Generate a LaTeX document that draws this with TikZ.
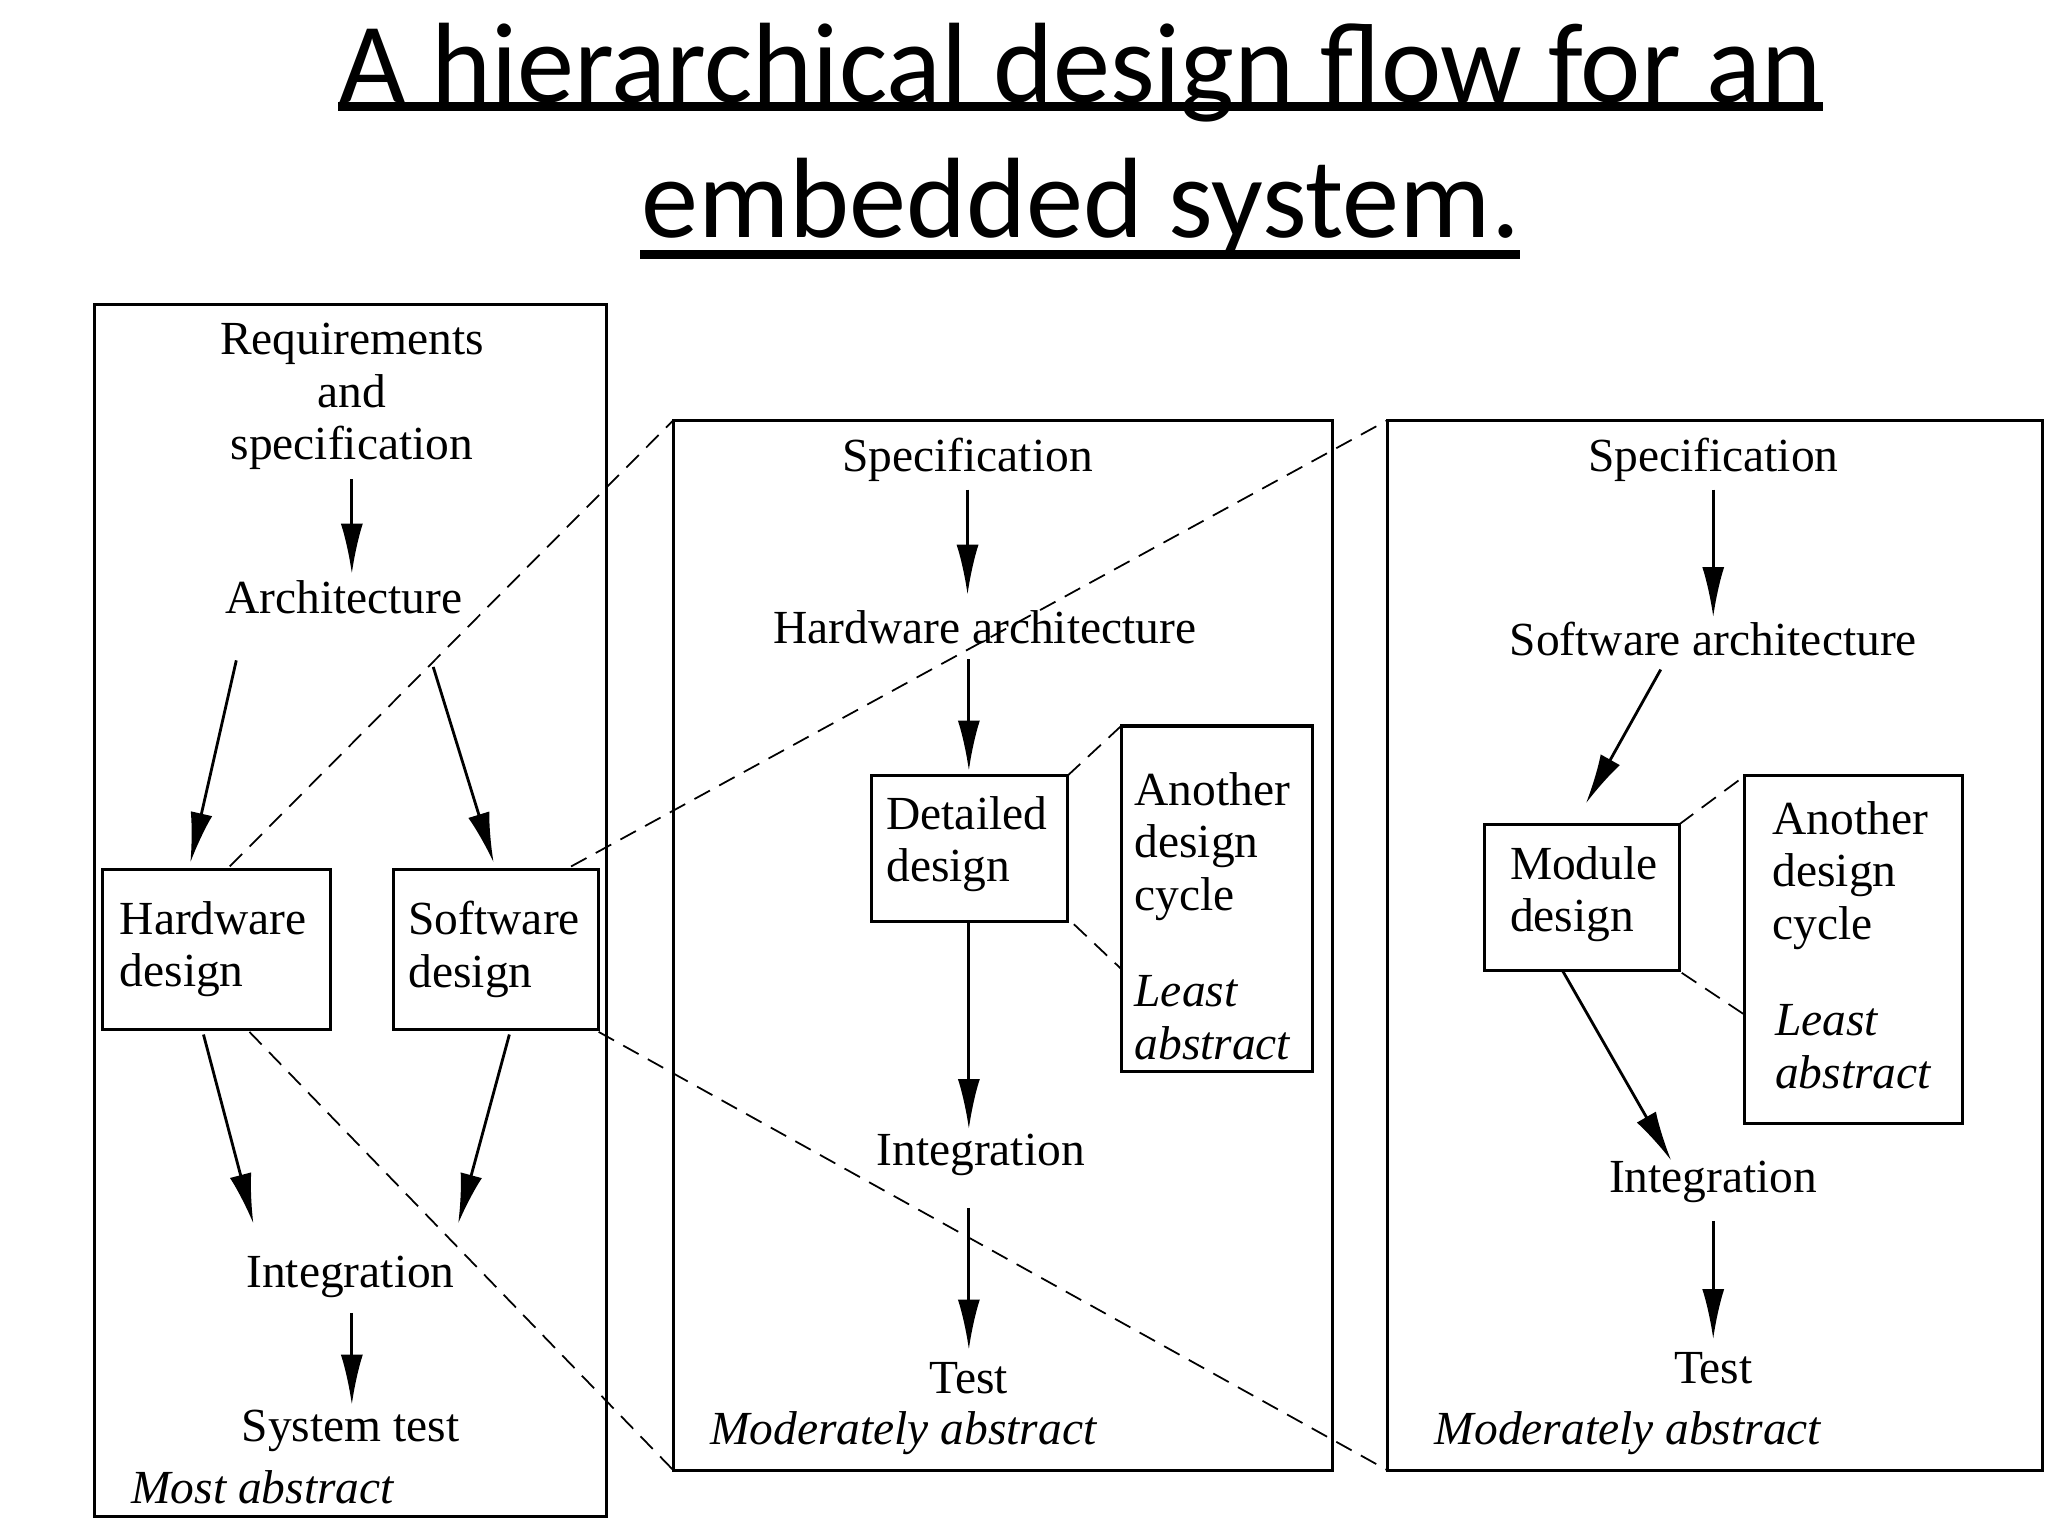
\documentclass[tikz,border=0pt]{standalone}
\usepackage{fontspec}
\setmainfont{Liberation Serif}
\newfontfamily\titlefont{Carlito}
\usetikzlibrary{arrows.meta}
\begin{document}
\begin{tikzpicture}[x=0.013128cm,y=-0.013128cm,
  txt/.style={font=\fontsize{13.5}{15}\selectfont,align=center,inner sep=1pt},
  itx/.style={txt,font=\fontsize{13.5}{15}\selectfont\itshape},
  ttl/.style={font=\titlefont\fontsize{32.5}{38}\selectfont,inner sep=0pt},
  frame/.style={draw,line width=0.9pt},
  arr/.style={-{Latex[length=0.5cm,width=0.22cm]},line width=0.8pt},
  dsh/.style={dashed,line width=0.5pt,dash pattern=on 5pt off 3pt}]
\useasboundingbox (0,0) rectangle (1560,1170);
% title
\node[ttl] (t1) at (823,55) {A hierarchical design flow for an};
\node[ttl] (t2) at (823,158) {embedded system.};
\draw[line width=2.4pt] (t1.south west) ++(0,-12) coordinate (u1) -- (u1 -| t1.south east);
\draw[line width=2.4pt] (t2.south west) ++(0,-2) coordinate (u2) -- (u2 -| t2.south east);
% frames
\draw[frame] (72,232) rectangle (462,1155);
\draw[frame] (513,320) rectangle (1015,1120);
\draw[frame] (1057,320) rectangle (1556,1120);
% left
\node[txt] (req) at (268,302) {Requirements\\and\\specification};
\node[txt] (arch) at (262,455) {Architecture};
\draw[frame] (78,662) rectangle (252,784);
\node[txt,align=left,anchor=west] (hwt) at (88,723) {Hardware\\design};
\draw[frame] (300,662) rectangle (456,784);
\node[txt,align=left,anchor=west] (swt) at (308,723) {Software\\design};
\node[txt] (int1) at (267,973) {Integration};
\node[txt] (st) at (267,1090) {System test};
\node[itx] (ma) at (200,1133) {Most abstract};
\coordinate (a1) at (268,365); \coordinate (b1) at (268,437);
\draw[arr] (a1) -- (b1);
\coordinate (a2) at (180,503); \coordinate (b2) at (145,657);
\draw[arr] (a2) -- (b2);
\coordinate (a3) at (330,508); \coordinate (b3) at (376,657);
\draw[arr] (a3) -- (b3);
\coordinate (a4) at (155,788); \coordinate (b4) at (193,932);
\draw[arr] (a4) -- (b4);
\coordinate (a5) at (388,788); \coordinate (b5) at (349,932);
\draw[arr] (a5) -- (b5);
\coordinate (a6) at (268,1000); \coordinate (b6) at (268,1070);
\draw[arr] (a6) -- (b6);
% middle
\node[txt] (sp2) at (737,350) {Specification};
\node[txt] (ha) at (750,478) {Hardware architecture};
\draw[frame] (664,591) rectangle (813,702);
\node[txt,align=left,anchor=west] (dd) at (672,643) {Detailed\\design};
\draw[frame] (854,553) rectangle (1000,816);
\node[txt,align=left,anchor=north west] (ad1) at (861,585) {Another\\design\\cycle};
\node[itx,align=left,anchor=north west] (la1) at (861,740) {Least\\abstract};
\node[txt] (int2) at (747,880) {Integration};
\node[txt] (te2) at (738,1050) {Test};
\node[itx] (mo2) at (688,1092) {Moderately abstract};
\coordinate (c1) at (737,373); \coordinate (d1) at (737,453);
\draw[arr] (c1) -- (d1);
\coordinate (c2) at (738,502); \coordinate (d2) at (738,587);
\draw[arr] (c2) -- (d2);
\coordinate (c3) at (738,702); \coordinate (d3) at (738,860);
\draw[arr] (c3) -- (d3);
\coordinate (c4) at (738,920); \coordinate (d4) at (738,1028);
\draw[arr] (c4) -- (d4);
% right
\node[txt] (sp3) at (1305,350) {Specification};
\node[txt] (sa) at (1305,487) {Software architecture};
\draw[frame] (1131,628) rectangle (1279,739);
\node[txt,align=left,anchor=west] (md) at (1147,681) {Module\\design};
\draw[frame] (1329,591) rectangle (1495,856);
\node[txt,align=left,anchor=north west] (ad2) at (1347,607) {Another\\design\\cycle};
\node[itx,align=left,anchor=north west] (la2) at (1349,762) {Least\\abstract};
\node[txt] (int3) at (1305,900) {Integration};
\node[txt] (te3) at (1305,1042) {Test};
\node[itx] (mo3) at (1240,1092) {Moderately abstract};
\coordinate (e1) at (1305,373); \coordinate (f1) at (1305,470);
\draw[arr] (e1) -- (f1);
\coordinate (e2) at (1265,510); \coordinate (f2) at (1208,612);
\draw[arr] (e2) -- (f2);
\coordinate (e3) at (1190,739); \coordinate (f3) at (1273,884);
\draw[arr] (e3) -- (f3);
\coordinate (e4) at (1305,930); \coordinate (f4) at (1305,1020);
\draw[arr] (e4) -- (f4);
% dashed zoom lines
\coordinate (h1) at (175,660); \coordinate (m1) at (513,320);
\coordinate (h2) at (190,786); \coordinate (m2) at (513,1120);
\coordinate (s1) at (435,660); \coordinate (r1) at (1057,320);
\coordinate (s2) at (456,786); \coordinate (r2) at (1057,1120);
\draw[dsh] (h1) -- (m1);
\draw[dsh] (h2) -- (m2);
\draw[dsh] (s1) -- (r1);
\draw[dsh] (s2) -- (r2);
\coordinate (g1) at (813,591); \coordinate (g2) at (854,553);
\coordinate (g3) at (818,704); \coordinate (g4) at (854,738);
\draw[dsh] (g1) -- (g2); \draw[dsh] (g3) -- (g4);
\coordinate (k1) at (1279,628); \coordinate (k2) at (1329,591);
\coordinate (k3) at (1281,741); \coordinate (k4) at (1329,773);
\draw[dsh] (k1) -- (k2); \draw[dsh] (k3) -- (k4);
\end{tikzpicture}
\end{document}
